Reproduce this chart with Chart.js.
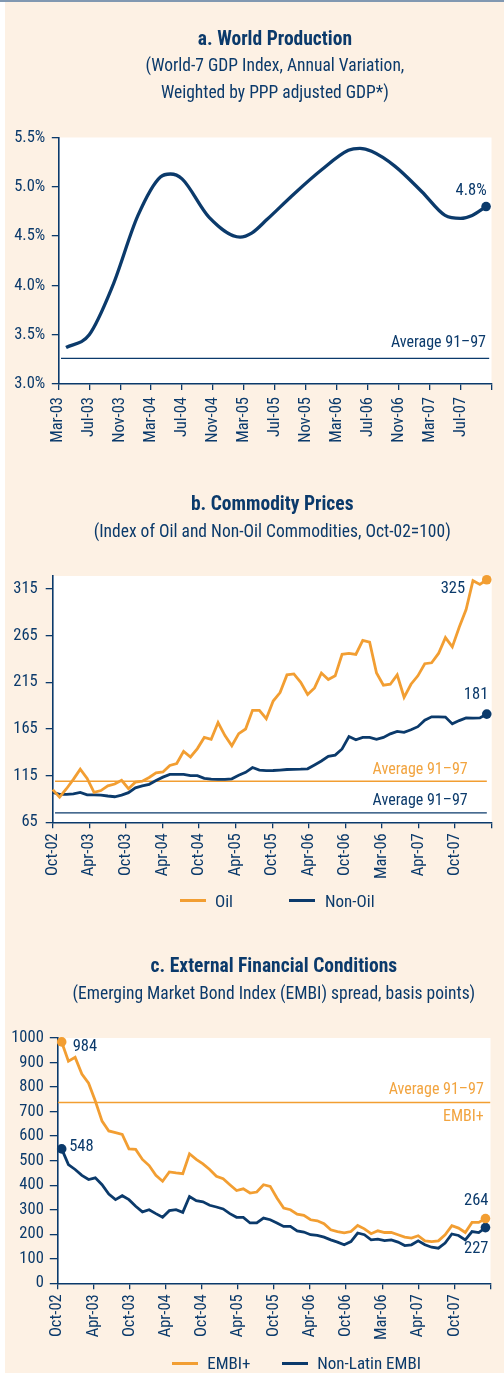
<!DOCTYPE html>
<html><head><meta charset="utf-8">
<script src="https://cdn.jsdelivr.net/npm/chart.js@4.4.1/dist/chart.umd.min.js"></script>
<style>
html,body{margin:0;padding:0;background:#fff;}
body{width:504px;height:1373px;position:relative;overflow:hidden;font-family:'Roboto Condensed','Liberation Sans Narrow',sans-serif;}
#bg{position:absolute;left:5px;top:2px;width:499px;height:1371px;background:#fdf1e4;}
#topline{position:absolute;left:0;top:0;width:504px;height:2px;background:#8198b1;}
canvas{position:absolute;left:0;}
.lg-sw{position:absolute;width:26px;height:3.5px;}
.lg-tx{position:absolute;font-size:17px;line-height:20px;height:20px;color:#0b3a6b;white-space:nowrap;}
</style></head>
<body>
<div id="bg"></div><div id="topline"></div>
<canvas id="ca" width="504" height="460" style="top:0px"></canvas>
<canvas id="cb" width="504" height="470" style="top:460px"></canvas>
<canvas id="cc" width="504" height="443" style="top:930px"></canvas>
<script>
// ---------------- DATA ----------------
// a. World Production (x = months since Mar-03)
const xLabelsA = ["Mar-03","Jul-03","Nov-03","Mar-04","Jul-04","Nov-04","Mar-05","Jul-05","Nov-05","Mar-06","Jul-06","Nov-06","Mar-07","Jul-07",""];
const yTicksA = [3.0,3.5,4.0,4.5,5.0,5.5];
const gdpMonths = [1,4,7,10.3,13.2,14.5,16,19.5,23.5,25,27,30.5,34,37.5,39,40.5,43.5,47,50,52,53.5,55.3];
const gdpGrowth = [3.37,3.50,3.99,4.71,5.10,5.13,5.08,4.69,4.49,4.53,4.67,4.93,5.17,5.37,5.39,5.36,5.21,4.95,4.71,4.68,4.71,4.80];
const gdpAverage = 3.26;

// b. Commodity prices (monthly observations, Oct-02 = 100)
const xLabelsB = ["Oct-02","Apr-03","Oct-03","Apr-04","Oct-04","Apr-05","Oct-05","Apr-06","Oct-06","Mar-06","Apr-07","Oct-07",""];
const yTicksB = [65,115,165,215,265,315];
const oilIndex = [100,92,101,111,122,112,97,99,104,106,110,101,108,109,113,118,119,126,128,141,135,144,156,154,172,158,147,160,165,185,185,176,195,204,223,224,215,202,209,225,218,222,245,246,245,260,258,225,212,213,223,199,213,222,235,236,246,263,253,274,293,324,320,325];
const nonOilIndex = [97,95,95,95.5,97,94.5,94.3,94.2,93.2,92.4,94.2,96.8,102,104,105.7,109.8,113.4,116.4,116.4,116.4,115,115,112.1,111.2,111.1,111.1,111.6,115.4,118.6,123.7,121,120.3,120.5,121,121.6,121.8,121.9,122.3,126.5,130.7,135.7,137,143.6,157,153.5,156.1,156.1,153.9,156,159.8,162.5,161.5,164.2,167.5,174.5,178.1,178.1,177.8,170.5,174,176.8,176.6,176.9,181];
const oilAverage = 109;
const nonOilAverage = 75;
const commodityStart = 0, commodityStep = 1.13;

// c. EMBI spreads (basis points)
const xLabelsC = ["Oct-02","Apr-03","Oct-03","Apr-04","Oct-04","Apr-05","Oct-05","Apr-06","Oct-06","Mar-06","Apr-07","Oct-07",""];
const yTicksC = [0,100,200,300,400,500,600,700,800,900,1000];
const embiPlus = [984,905,921,853,816,743,661,621,614,607,548,546,505,480,440,416,454,450,447,528,505,487,464,436,426,402,378,385,368,372,402,395,348,307,300,282,277,259,255,243,218,211,206,211,236,222,202,214,207,207,198,188,184,194,173,170,173,198,235,225,207,248,248,264];
const nonLatinEmbi = [548,484,464,440,423,430,402,364,341,357,341,314,291,300,284,269,296,300,289,354,337,332,318,311,303,284,269,269,246,246,266,259,246,232,232,214,209,198,195,188,177,168,157,170,205,198,177,180,174,177,168,154,157,173,157,147,143,164,201,195,177,211,207,227];
const embiAverage = 737;
const embiStart = 0.73, embiStep = 1.118;

// ---------------- STYLE ----------------
const NAVY = '#0b3a6b', ORANGE = '#f29e32', ORANGE_TXT = '#f2a43f';
const FONT = "'Roboto Condensed','Liberation Sans Narrow',sans-serif";
Chart.defaults.font.family = FONT;
Chart.defaults.color = NAVY;
Chart.defaults.animation = false;

const plotBg = { id:'plotBg', beforeDraw(chart){ const {ctx, chartArea:a} = chart; ctx.save(); ctx.fillStyle='#ffffff'; ctx.fillRect(a.left, a.top, a.right-a.left, a.bottom-a.top); ctx.restore(); } };
const notes = { id:'notes', afterDatasetsDraw(chart, args, opts){
  const {ctx, scales:{x, y}} = chart;
  (opts.items || []).forEach(n => {
    ctx.save();
    ctx.font = (n.size || 16) + 'px ' + FONT;
    ctx.fillStyle = n.color || NAVY;
    ctx.textAlign = n.align || 'center';
    ctx.textBaseline = 'middle';
    ctx.fillText(n.text, x.getPixelForValue(n.x) + n.dx, y.getPixelForValue(n.y) + n.dy);
    ctx.restore();
  });
}};

const pts = (xs, ys) => ys.map((v, i) => ({x: xs[i], y: v}));
const evenPts = (start, step, ys) => ys.map((v, i) => ({x: start + i * step, y: v}));
const markAt = (idxs, r) => (c) => idxs.includes(c.dataIndex) ? r : 0;
const noPad = (s) => { s.paddingLeft = 0; s.paddingRight = 0; s.paddingTop = 0; s.paddingBottom = 0; };

function xAxis(max, step, labels, pad){
  return { type:'linear', min:0, max, offset:false,
    ticks:{ stepSize:step, autoSkip:false, minRotation:90, maxRotation:90, padding:pad, color:NAVY, font:{size:16.5},
      callback:(v, i) => labels[i] !== undefined ? labels[i] : '' },
    grid:{ drawOnChartArea:false, drawTicks:true, tickLength:6, color:NAVY, lineWidth:1.3 },
    border:{ display:true, color:NAVY, width:1.6 },
    afterFit(s){ s.height = 60; noPad(s); } };
}
function yAxis(min, max, tickVals, fmt, width, tickLen, pad){
  return { type:'linear', min, max,
    afterBuildTicks(s){ s.ticks = tickVals.map(v => ({value:v})); },
    ticks:{ padding:pad, color:NAVY, font:{size:16.5}, callback: fmt },
    grid:{ drawOnChartArea:false, drawTicks:true, tickLength:tickLen, color:NAVY, lineWidth:1.3 },
    border:{ display:true, color:NAVY, width:1.6 },
    afterFit(s){ s.width = width; noPad(s); } };
}
function titles(t, sub, tTop, sTop, sBottom){
  return {
    title:{ display:true, text:t, color:NAVY, fullSize:false, font:{size:19.5, weight:'bold', lineHeight:1.2}, padding:{top:tTop, bottom:0} },
    subtitle:{ display:true, text:sub, color:NAVY, fullSize:false, font:{size:17.5, lineHeight:27/17.5}, padding:{top:sTop, bottom:sBottom} }
  };
}
function avgLine(x0, x1, v, color, w){
  return { label:'avg', data:[{x:x0,y:v},{x:x1,y:v}], borderColor:color, borderWidth:w, pointRadius:0, tension:0 };
}

// ---------------- CHART A ----------------
new Chart(document.getElementById('ca'), {
  type:'line',
  data:{ datasets:[
    { label:'World-7 GDP', data:pts(gdpMonths, gdpGrowth), borderColor:NAVY, borderWidth:3.3, cubicInterpolationMode:'monotone',
      pointRadius:markAt([gdpGrowth.length-1], 4.8), pointBackgroundColor:NAVY, pointBorderWidth:0, clip:false },
    avgLine(0.35, 55.7, gdpAverage, NAVY, 1.3)
  ]},
  options:{ responsive:false, layout:{ padding:{left:0, right:12.5, top:0, bottom:16} },
    scales:{ x:xAxis(56, 4, xLabelsA, 7), y:yAxis(3.0, 5.5, yTicksA, v => v.toFixed(1) + '%', 58.3, 6.5, 6.5) },
    plugins:{ legend:{display:false}, tooltip:{enabled:false},
      ...titles('a. World Production', ['(World-7 GDP Index, Annual Variation,','Weighted by PPP adjusted GDP*)'], 28.3, 1.8, 30),
      notes:{ items:[
        { text: gdpGrowth[gdpGrowth.length-1].toFixed(1) + '%', x: gdpMonths[gdpMonths.length-1], y: gdpGrowth[gdpGrowth.length-1], dx:-15, dy:-15.2, align:'center', size:16.5 },
        { text:'Average 91\u201397', x:56, y:gdpAverage, dx:-5.5, dy:-15.3, align:'right', size:16 }
      ]}
    } },
  plugins:[plotBg, notes]
});

// ---------------- CHART B ----------------
const lastB = oilIndex.length - 1;
const xLastB = commodityStart + lastB * commodityStep;
const chartB = new Chart(document.getElementById('cb'), {
  type:'line',
  data:{ datasets:[
    { label:'Oil', data:evenPts(commodityStart, commodityStep, oilIndex), borderColor:ORANGE, borderWidth:2.8, tension:0,
      pointRadius:markAt([lastB], 4.8), pointBackgroundColor:ORANGE, pointBorderWidth:0, clip:false },
    { label:'Non-Oil', data:evenPts(commodityStart, commodityStep, nonOilIndex), borderColor:NAVY, borderWidth:2.8, tension:0,
      pointRadius:markAt([lastB], 4.8), pointBackgroundColor:NAVY, pointBorderWidth:0, clip:false },
    avgLine(0.38, 71.2, oilAverage, ORANGE, 1.3),
    avgLine(0.38, 71.2, nonOilAverage, NAVY, 1.3)
  ]},
  options:{ responsive:false, layout:{ padding:{left:0, right:12.3, top:0, bottom:47.7} },
    scales:{ x:xAxis(72, 6, xLabelsB, 5), y:yAxis(65, 329, yTicksB, v => String(v), 52.7, 7, 8) },
    plugins:{ legend:{display:false}, tooltip:{enabled:false},
      ...titles('b. Commodity Prices', '(Index of Oil and Non-Oil Commodities, Oct-02=100)', 33.3, 2.8, 29.5),
      notes:{ items:[
        { text:String(oilIndex[lastB]), x:xLastB, y:oilIndex[lastB], dx:-21.7, dy:8.7, align:'right', size:16.5 },
        { text:String(nonOilIndex[lastB]), x:xLastB, y:nonOilIndex[lastB], dx:-10.7, dy:-19, align:'center', size:16.5 },
        { text:'Average 91\u201397', x:72, y:oilAverage, dx:-24, dy:-11.2, align:'right', size:16, color:ORANGE_TXT },
        { text:'Average 91\u201397', x:72, y:nonOilAverage, dx:-24, dy:-12.3, align:'right', size:16 }
      ]}
    } },
  plugins:[plotBg, notes]
});

// ---------------- CHART C ----------------
const lastC = embiPlus.length - 1;
const xLastC = embiStart + lastC * embiStep;
const chartC = new Chart(document.getElementById('cc'), {
  type:'line',
  data:{ datasets:[
    { label:'EMBI+', data:evenPts(embiStart, embiStep, embiPlus), borderColor:ORANGE, borderWidth:2.8, tension:0,
      pointRadius:markAt([0, lastC], 4.8), pointBackgroundColor:ORANGE, pointBorderWidth:0, clip:false },
    { label:'Non-Latin EMBI', data:evenPts(embiStart, embiStep, nonLatinEmbi), borderColor:NAVY, borderWidth:2.8, tension:0,
      pointRadius:markAt([0, lastC], 4.8), pointBackgroundColor:NAVY, pointBorderWidth:0, clip:false },
    avgLine(0.1, 72, embiAverage, ORANGE, 1.5)
  ]},
  options:{ responsive:false, layout:{ padding:{left:0, right:13.5, top:0, bottom:29.7} },
    scales:{ x:xAxis(72, 6, xLabelsC, 5), y:yAxis(0, 1000, yTicksC, v => String(v), 57.3, 7.5, 6) },
    plugins:{ legend:{display:false}, tooltip:{enabled:false},
      ...titles('c. External Financial Conditions', '(Emerging Market Bond Index (EMBI) spread, basis points)', 25, 3.1, 29.5),
      notes:{ items:[
        { text:String(embiPlus[0]), x:embiStart, y:embiPlus[0], dx:11, dy:5.1, align:'left', size:16.5 },
        { text:String(nonLatinEmbi[0]), x:embiStart, y:nonLatinEmbi[0], dx:7.5, dy:-2.4, align:'left', size:16.5 },
        { text:String(embiPlus[lastC]), x:xLastC, y:embiPlus[lastC], dx:-9.2, dy:-17.8, align:'center', size:16.5 },
        { text:String(nonLatinEmbi[lastC]), x:xLastC, y:nonLatinEmbi[lastC], dx:-9.2, dy:21.2, align:'center', size:16.5 },
        { text:'Average 91\u201397', x:72, y:embiAverage, dx:-6.7, dy:-12.2, align:'right', size:16, color:ORANGE_TXT },
        { text:'EMBI+', x:72, y:embiAverage, dx:-6.7, dy:14.8, align:'right', size:16, color:ORANGE_TXT }
      ]}
    } },
  plugins:[plotBg, notes]
});

// ---------------- HTML LEGENDS (text/colours from the datasets) ----------------
function htmlLegend(chart, centerY, slots){
  slots.forEach((s, i) => {
    const ds = chart.data.datasets[i];
    const sw = document.createElement('div');
    sw.className = 'lg-sw'; sw.style.left = s[0] + 'px'; sw.style.top = (centerY - 1.75) + 'px'; sw.style.background = ds.borderColor;
    const tx = document.createElement('div');
    tx.className = 'lg-tx'; tx.style.left = s[1] + 'px'; tx.style.top = (centerY - 10) + 'px'; tx.textContent = ds.label;
    document.body.appendChild(sw); document.body.appendChild(tx);
  });
}
htmlLegend(chartB, 900.7, [[180, 215], [289.3, 325]]);
htmlLegend(chartC, 1363.3, [[171.7, 207.3], [281.7, 317.3]]);
</script>
</body></html>
